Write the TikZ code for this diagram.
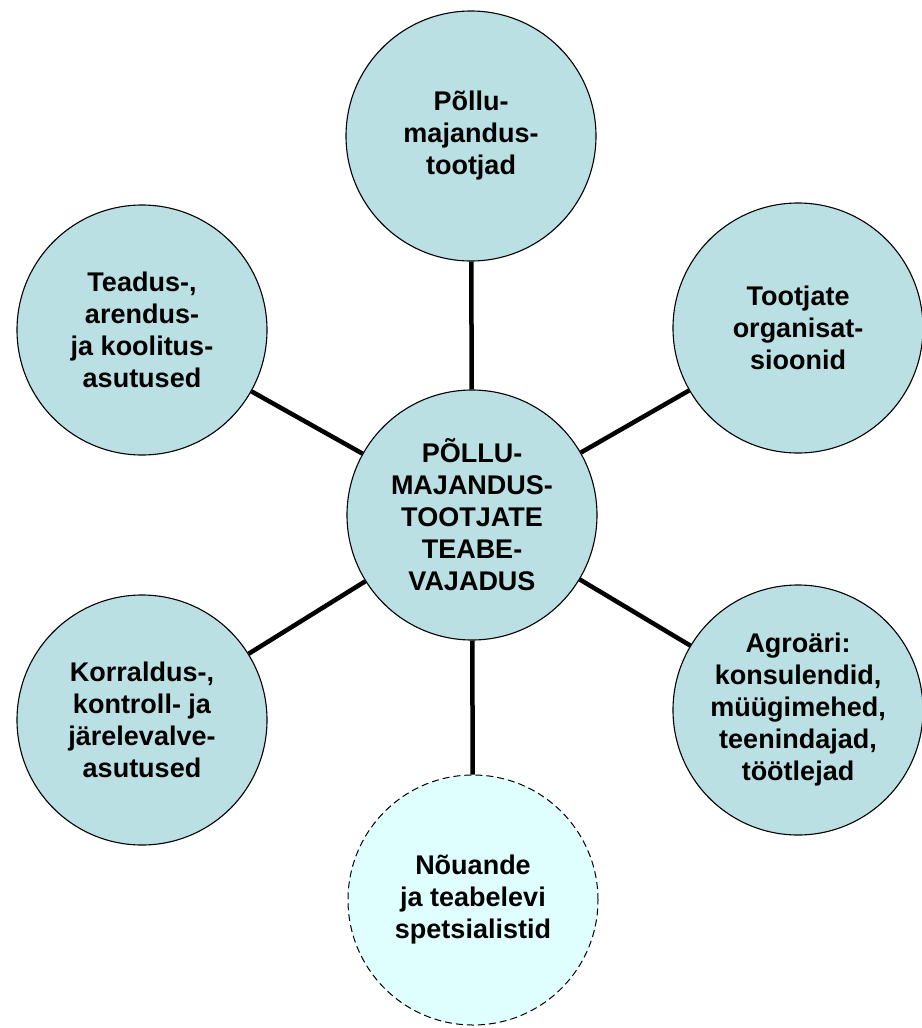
\documentclass[tikz,border=0pt]{standalone}
\usepackage{fontspec}
\setmainfont{Liberation Sans}
\usepackage{tikz}
\usetikzlibrary{calc}
\definecolor{ringfill}{HTML}{BBE0E3}
\definecolor{paleflll}{HTML}{DFFFFF}
\tikzset{
  ring/.style={circle,draw=black,line width=1.1pt,fill=ringfill,minimum size=250pt,
    inner sep=0pt,align=center,font=\bfseries\fontsize{27}{32}\selectfont},
  spoke/.style={line width=4.5pt}
}

\begin{document}
\begin{tikzpicture}[x=1pt,y=-1pt]
\useasboundingbox(0,0) rectangle (921,1028);
\node[ring](hub) at (472,515){PÕLLU-\\MAJANDUS-\\TOOTJATE\\TEABE-\\VAJADUS};

\node[ring](top) at (471,136){Põllu-\\majandus-\\tootjad};
\node[ring](orgs) at (798,328){Tootjate\\organisat-\\sioonid};
\node[ring](agro) at (798,710){Agroäri:\\konsulendid,\\müügimehed,\\teenindajad,\\töötlejad};
\node[ring,dashed,dash pattern=on 7pt off 4pt,line width=1pt,fill=paleflll](advice) at (473,900){Nõuande\\ja teabelevi\\spetsialistid};
\node[ring](control) at (142,720){Korraldus-,\\kontroll- ja\\järelevalve-\\asutused};
\node[ring](research) at (142,330){Teadus-,\\arendus-\\ja koolitus-\\asutused};

\draw[spoke](hub)--(top);
\draw[spoke](hub)--(orgs);
\draw[spoke](hub)--(agro);
\draw[spoke](hub)--(advice);
\draw[spoke](hub)--(control);
\draw[spoke](hub)--(research);
\end{tikzpicture}
\end{document}
